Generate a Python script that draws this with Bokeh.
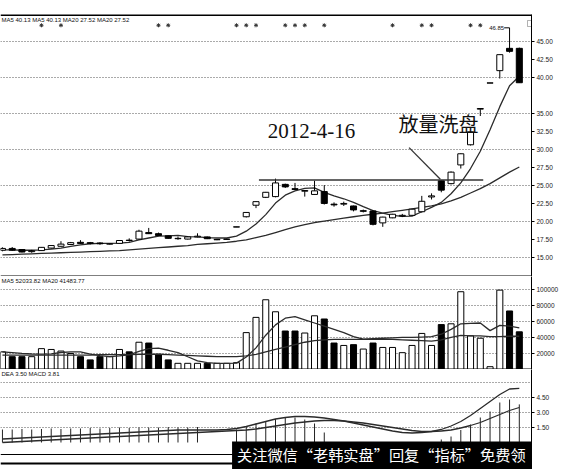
import numpy as np
from bokeh.plotting import figure
from bokeh.layouts import column
from bokeh.models import (ColumnDataSource, Range1d, FixedTicker, Label,
                          BoxAnnotation, PrintfTickFormatter)
from bokeh.embed import file_html
from bokeh.resources import INLINE
from bokeh.core.properties import value

# ---------------- daily bars ----------------
opens = [15.95, 16.2, 16.05, 15.75, 15.9, 16.25, 16.5, 16.75, 17.05, 17.0,
         16.95, 16.8, 16.9, 17.35, 17.5, 18.4, 18.25, 17.95, 17.55, 17.5,
         17.8, 17.8, 17.4, 17.45, 19.17, 20.6, 22.2, 23.3, 23.4, 25.1,
         24.5, 24.15, 23.7, 24.1, 22.35, 22.35, 22.1, 21.35, 21.4, 19.75,
         20.45, 20.7, 20.8, 21.3, 23.35, 25.6, 25.2, 27.8, 30.6, 35.55,
         39.17, 40.9, 44.0, 44.0]
highs = [16.35, 16.4, 16.1, 16.0, 16.4, 16.65, 17.2, 17.1, 17.35, 17.1,
         17.05, 16.95, 17.35, 17.6, 18.8, 19.05, 18.4, 18.0, 17.85, 17.85,
         18.3, 17.85, 17.5, 17.55, 19.2, 21.25, 22.75, 24.05, 25.9, 25.2,
         25.3, 24.3, 25.6, 25.0, 22.6, 22.7, 22.15, 21.6, 21.5, 20.6,
         21.0, 21.0, 21.7, 23.5, 23.85, 25.65, 26.9, 29.4, 32.5, 35.64,
         39.2, 43.12, 46.85, 44.1]
lows = [15.8, 15.85, 15.65, 15.6, 15.85, 16.2, 16.45, 16.7, 16.85, 16.75,
        16.7, 16.75, 16.85, 17.15, 17.45, 18.2, 17.9, 17.55, 17.4, 17.45,
        17.75, 17.5, 17.35, 17.4, 19.17, 20.5, 21.8, 23.2, 23.3, 24.6,
        24.35, 23.4, 23.65, 22.3, 22.0, 22.1, 21.35, 21.2, 19.4, 19.2,
        20.4, 20.55, 20.75, 21.2, 23.0, 24.0, 25.1, 27.3, 30.5, 34.6,
        39.17, 39.8, 43.4, 39.2]
closes = [16.2, 15.95, 15.7, 15.85, 16.35, 16.6, 16.8, 17.0, 16.9, 16.9,
          16.85, 16.85, 17.3, 17.3, 18.6, 18.25, 18.0, 17.6, 17.6, 17.8,
          17.9, 17.55, 17.45, 17.5, 19.2, 21.2, 22.7, 24.0, 25.3, 24.75,
          24.4, 24.25, 24.2, 22.45, 22.25, 22.45, 21.55, 21.45, 19.55, 20.55,
          20.95, 20.8, 21.65, 22.75, 23.5, 24.3, 26.8, 29.35, 32.4, 35.64,
          39.2, 43.12, 43.58, 39.22]
ma5 = [16.0, 16.0, 15.95, 15.95, 16.0, 16.1, 16.25, 16.5, 16.7, 16.85,
       16.9, 16.9, 16.95, 17.05, 17.4, 17.65, 17.9, 17.95, 18.0, 17.85,
       17.8, 17.7, 17.65, 17.65, 17.9, 18.6, 19.6, 20.9, 22.5, 23.6,
       24.2, 24.55, 24.6, 24.0, 23.5, 23.1, 22.6, 22.0, 21.45, 21.1,
       20.8, 20.65, 20.7, 21.3, 21.9, 22.6, 23.8, 25.3, 27.3, 29.7,
       32.7, 35.9, 38.8, 40.13]
ma20 = [15.3, 15.35, 15.4, 15.45, 15.5, 15.55, 15.6, 15.65, 15.7, 15.75,
        15.8, 15.85, 15.9, 16.0, 16.1, 16.2, 16.3, 16.4, 16.5, 16.6,
        16.75, 16.85, 16.95, 17.05, 17.2, 17.4, 17.7, 18.0, 18.4, 18.8,
        19.2, 19.5, 19.8, 20.0, 20.2, 20.4, 20.6, 20.8, 20.95, 21.1,
        21.3, 21.5, 21.7, 21.9, 22.1, 22.4, 22.8, 23.3, 23.9, 24.5,
        25.2, 26.0, 26.8, 27.52]

# ---------------- volume ----------------
volumes = [22000, 16000, 16000, 16000, 26000, 25000, 23000, 20000, 16000, 12000,
           16000, 16000, 25000, 22000, 34000, 33000, 19000, 12000, 7700, 7700,
           7700, 7700, 7700, 7700, 8500, 46000, 65000, 87000, 72000, 48000,
           48000, 45500, 67000, 63000, 33000, 30000, 31000, 25500, 33000, 27500,
           27500, 21000, 30000, 45000, 30000, 56000, 57000, 97000, 42000, 39000,
           3500, 99000, 73000, 47000]
vol_ma5 = [22000, 21000, 20000, 19500, 19200, 19400, 21200, 22000, 22000, 19200,
           17400, 16000, 17000, 18200, 22600, 26000, 26600, 24000, 21100, 15900,
           10800, 8500, 7700, 7700, 7900, 15500, 27000, 42800, 55700, 64000,
           66000, 62000, 58000, 54000, 50000, 46000, 41000, 38000, 38500, 39000,
           39500, 40000, 40000, 40500, 41000, 44000, 50000, 57000, 57500, 58000,
           48500, 55000, 54000, 52033]
vol_ma20 = [18000, 18000, 18000, 18000, 18000, 18000, 18000, 18000, 18000, 18000,
            18500, 18500, 18500, 18500, 19000, 19000, 19000, 18500, 18000, 17500,
            17000, 16500, 16000, 16000, 16000, 17000, 19000, 22000, 25000, 28000,
            31000, 34000, 36000, 37000, 37500, 37500, 37500, 37500, 37500, 37500,
            37500, 37000, 36500, 36000, 35500, 37000, 40000, 42500, 42000, 42000,
            41000, 41000, 41500, 41484]

# ---------------- MACD ----------------
dif = [0.35, 0.4, 0.45, 0.5, 0.55, 0.6, 0.65, 0.7, 0.75, 0.8,
       0.85, 0.9, 0.95, 1.0, 1.05, 1.1, 1.15, 1.2, 1.25, 1.25,
       1.25, 1.25, 1.25, 1.3, 1.4, 1.6, 1.85, 2.1, 2.35, 2.5,
       2.6, 2.6, 2.55, 2.45, 2.3, 2.15, 1.95, 1.75, 1.55, 1.35,
       1.15, 1.0, 0.95, 1.0, 1.1, 1.3, 1.65, 2.1, 2.7, 3.4,
       4.1, 4.8, 5.35, 5.41]
dea = [0.0, 0.05, 0.1, 0.15, 0.2, 0.25, 0.3, 0.35, 0.4, 0.45,
       0.5, 0.55, 0.6, 0.65, 0.7, 0.75, 0.8, 0.85, 0.9, 0.95,
       1.0, 1.05, 1.1, 1.15, 1.2, 1.25, 1.35, 1.5, 1.65, 1.8,
       1.95, 2.05, 2.15, 2.2, 2.2, 2.15, 2.05, 1.95, 1.8, 1.65,
       1.5, 1.35, 1.2, 1.1, 1.1, 1.15, 1.25, 1.45, 1.7, 2.0,
       2.4, 2.8, 3.2, 3.5]
macd_hist = [1.3, 1.3, 1.35, 1.3, 1.35, 1.4, 1.35, 1.4, 1.4, 1.45,
             1.4, 1.45, 1.5, 1.45, 1.5, 1.5, 1.5, 1.55, 1.5, 1.5,
             1.55, 0.0, 0.0, 0.0, 1.3, 1.6, 1.9, 2.15, 2.35, 2.45,
             2.5, 2.3, 1.9, 1.0, -0.3, -0.4, -0.5, -0.6, -0.6, -0.5,
             -0.5, -0.4, -0.3, -0.2, -0.1, 0.3, 0.6, 1.25, 1.8, 2.5,
             3.1, 4.0, 4.3, 3.81]

# info-mine markers above the bars, and the annotated day
info_marks = [4, 6, 16, 17, 24, 25, 26, 29, 30, 31, 33, 40, 43, 44, 48, 49]
washout_day = 45
resist_level = 25.7
resist_from, resist_to = 26.3, 49.3
high_day = 52

price_ticks = [15.0, 17.5, 20.0, 22.5, 25.0, 27.5, 30.0, 32.5, 35.0, 40.0, 42.5, 45.0]
price_grid = [15, 20, 25, 30, 35, 40, 45]
vol_ticks = [20000, 40000, 60000, 80000, 100000]
macd_ticks = [1.5, 3.0, 4.5]
macd_grid = [1.5, 3.0, 4.5, 6.0]

price_title = "MA5 40.13 MA5 40.13 MA20 27.52 MA20 27.52"
vol_title = "MA5 52033.82 MA20 41483.77"
macd_title = "DEA 3.50 MACD 3.81"
note_date = "2012-4-16"
note_text = "放量洗盘"
banner = "关注微信“老韩实盘”回复“指标”免费领"

# ---------------- layout ----------------
W = 561
FRAME_W = 532
X0, X1 = -0.2, 54.25
x_range = Range1d(X0, X1)
idx = list(range(len(closes)))
SMALL = "Liberation Sans"


def xpx(px):
    """frame pixel -> bar index"""
    return X0 + px / FRAME_W * (X1 - X0)


def make_fig(height, y0, y1, top=0, bottom=0):
    p = figure(width=W, height=height, x_range=x_range, y_range=Range1d(y0, y1),
               x_axis_location=None, y_axis_location="right", tools="",
               toolbar_location=None, output_backend="svg",
               min_border_left=0, min_border_right=W - FRAME_W,
               min_border_top=top, min_border_bottom=bottom)
    p.outline_line_color = None
    p.background_fill_color = "white"
    p.border_fill_color = "white"
    p.xgrid.visible = False
    p.ygrid.grid_line_color = "#555555"
    p.ygrid.grid_line_dash = "1 2"
    p.ygrid.grid_line_width = 1
    ax = p.yaxis[0]
    ax.axis_line_color = "black"
    ax.axis_line_width = 1
    ax.major_tick_in = 0
    ax.major_tick_out = 3
    ax.major_tick_line_color = "black"
    ax.minor_tick_line_color = None
    ax.major_label_text_font = SMALL
    ax.major_label_text_font_size = "6.5px"
    ax.major_label_text_color = "#222222"
    ax.major_label_standoff = 2
    return p


def hbar(p, y_top, y_bot, left_px=0, right_px=557, color="black"):
    p.add_layout(BoxAnnotation(left=xpx(left_px), right=xpx(right_px), top=y_top, bottom=y_bot,
                               fill_color=color, fill_alpha=1, line_color=None))


def vbar_line(p, px, y_top, y_bot, w=1.0):
    p.add_layout(BoxAnnotation(left=xpx(px - w / 2), right=xpx(px + w / 2), top=y_top, bottom=y_bot,
                               fill_color="black", fill_alpha=1, line_color=None))


up = [c >= o for o, c in zip(opens, closes)]
fill = ["white" if u else "black" for u in up]

# ----- price panel -----
P0, P1 = 12.3, 48.7
H1 = 276
p1 = make_fig(H1, P0, P1, top=14)
ppu = (H1 - 14) / (P1 - P0)     # pixels per price unit
p1.yaxis[0].ticker = FixedTicker(ticks=price_ticks)
p1.yaxis[0].formatter = PrintfTickFormatter(format="%.2f")
p1.ygrid.ticker = FixedTicker(ticks=price_grid)

src = ColumnDataSource(dict(x=idx, o=opens, h=highs, l=lows, c=closes,
                            top=[max(o, c) for o, c in zip(opens, closes)],
                            bot=[min(o, c) for o, c in zip(opens, closes)],
                            fill=fill, ma5=ma5, ma20=ma20))
p1.line("x", "ma20", source=src, line_color="#2b2b2b", line_width=1.3)
p1.line("x", "ma5", source=src, line_color="#2b2b2b", line_width=1.3)
p1.segment("x", "h", "x", "l", source=src, line_color="black", line_width=1)
p1.vbar(x="x", top="top", bottom="bot", width=0.62, source=src,
        fill_color="fill", line_color="black", line_width=1)
p1.scatter(info_marks, [47.2] * len(info_marks), marker="asterisk", size=4,
           line_color="#333333", line_width=1)

# previous-high line and the annotated washout day
p1.segment(resist_from, resist_level, resist_to, resist_level, line_color="#333333", line_width=1.6)
p1.segment(41.7, 30.2, washout_day - 0.1, highs[washout_day] + 0.15,
           line_color="#333333", line_width=1.3)
p1.add_layout(Label(x=27.2, y=31.6, text=note_date, text_font="Liberation Serif",
                    text_font_size="21px", text_color="#111111"))
p1.add_layout(Label(x=40.6, y=31.6, text=note_text, text_font="Noto Sans CJK SC",
                    text_font_size="20px", text_color="#111111"))

# highest price marker
p1.segment(high_day - 0.55, highs[high_day], high_day, highs[high_day],
           line_color="black", line_width=1)
p1.add_layout(Label(x=high_day - 0.55, y=highs[high_day], text="%.2f" % highs[high_day],
                    text_font=SMALL, text_font_size="6px",
                    text_align="right", text_baseline="middle", text_color="#111111"))

# last price flag on the axis
p1.add_layout(BoxAnnotation(left=xpx(FRAME_W + 1), right=xpx(556), top=closes[-1],
                            bottom=closes[-1] - 8 / ppu, fill_color="#3a3a3a", fill_alpha=1,
                            line_color=None))
p1.add_layout(Label(x=xpx(FRAME_W + 3), y=closes[-1] - 6.5 / ppu, text="%.2f" % closes[-1],
                    text_font=SMALL, text_font_size="6.5px",
                    text_color="white", text_baseline="alphabetic"))

# small window icon in the corner
p1.add_layout(BoxAnnotation(left=xpx(528), right=xpx(534), top=P1 - 6 / ppu, bottom=P1 - 12 / ppu,
                            fill_alpha=0, line_color="black", line_width=1))

p1.add_layout(Label(x=xpx(1), y=P1 - 2.5 / ppu, text=price_title, text_baseline="top",
                    text_font=SMALL, text_font_size="6px", text_color="#111111"))

# panel borders
hbar(p1, P1 + 0.5 / ppu, P1 - 1.5 / ppu)
hbar(p1, P0 + 1 / ppu, P0 - 1 / ppu)
vbar_line(p1, 557, P1, P0, w=1.6)

# ----- volume panel -----
V0, V1 = 0, 116000
H2 = 93
p2 = make_fig(H2, V0, V1)
vpu = H2 / (V1 - V0)
p2.yaxis[0].ticker = FixedTicker(ticks=vol_ticks)
p2.yaxis[0].formatter = PrintfTickFormatter(format="%d")
p2.ygrid.ticker = FixedTicker(ticks=vol_ticks)
vsrc = ColumnDataSource(dict(x=idx, v=volumes, fill=fill, m5=vol_ma5, m20=vol_ma20))
p2.vbar(x="x", top="v", bottom=0, width=0.62, source=vsrc,
        fill_color="fill", line_color="black", line_width=1)
p2.line("x", "m5", source=vsrc, line_color="#2b2b2b", line_width=1.3)
p2.line("x", "m20", source=vsrc, line_color="#2b2b2b", line_width=1.3)
p2.add_layout(Label(x=xpx(1), y=V1 - 1.5 / vpu, text=vol_title, text_baseline="top",
                    text_font=SMALL, text_font_size="6px", text_color="#111111"))
hbar(p2, V0 + 1 / vpu, V0 - 1 / vpu)
vbar_line(p2, 557, V1, V0, w=1.6)

# ----- MACD panel (frame runs to the bottom edge; the date strip sits inside it) -----
M0, M1 = -2.7, 7.3
H3 = 100
p3 = make_fig(H3, M0, M1)
mpu = H3 / (M1 - M0)
p3.yaxis[0].ticker = FixedTicker(ticks=macd_ticks)
p3.yaxis[0].formatter = PrintfTickFormatter(format="%.2f")
p3.ygrid.ticker = FixedTicker(ticks=macd_grid)
msrc = ColumnDataSource(dict(x=idx, dif=dif, dea=dea, h=macd_hist, z=[0] * len(idx)))
p3.segment("x", "z", "x", "h", source=msrc, line_color="#222222", line_width=1)
p3.line("x", "dea", source=msrc, line_color="#2b2b2b", line_width=1.3)
p3.line("x", "dif", source=msrc, line_color="#2b2b2b", line_width=1.3)
p3.add_layout(Label(x=xpx(1), y=M1 - 1 / mpu, text=macd_title, text_baseline="top",
                    text_font=SMALL, text_font_size="6px", text_color="#111111"))
# date scale strip under the MACD curves
hbar(p3, M0 + 15.5 / mpu, M0 + 14.5 / mpu)
hbar(p3, M0 + 7 / mpu, M0 + 5 / mpu)
vbar_line(p3, 557, M1, M0, w=1.6)

# caption band
p3.add_layout(BoxAnnotation(left=xpx(232), right=xpx(570), top=M0 + 28 / mpu, bottom=M0 - 2 / mpu,
                            fill_color="black", fill_alpha=1, line_color=None))
p3.add_layout(Label(x=xpx(237), y=M0 + 26.5 / mpu, text=banner, text_baseline="top",
                    text_font="Noto Sans CJK SC", text_font_size="15.2px", text_color="white"))

layout = column(p1, p2, p3, spacing=0)
open("out.html", "w").write(file_html(layout, INLINE))
